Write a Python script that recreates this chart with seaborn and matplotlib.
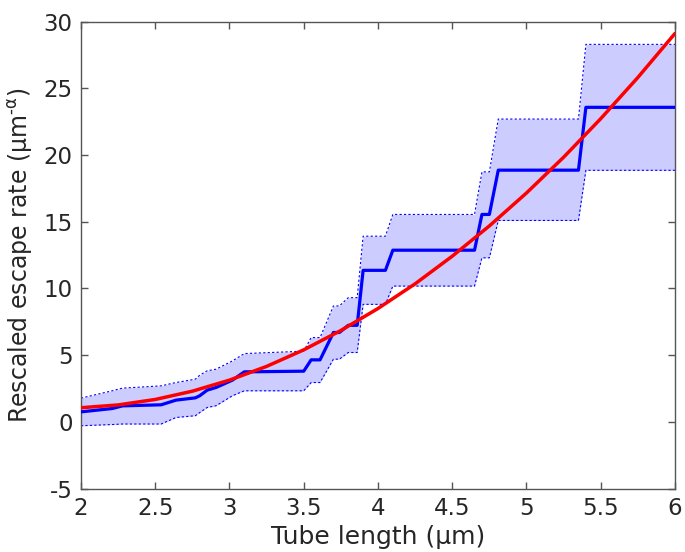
import matplotlib
matplotlib.use("Agg")
import matplotlib.pyplot as plt
import seaborn as sns
import pandas as pd

# Empirical escape rate (step-like estimate) with confidence band
x_emp = [2.00, 2.21, 2.28, 2.54, 2.64, 2.77, 2.80, 2.85, 2.91, 3.02, 3.10, 3.50, 3.55, 3.61,
         3.70, 3.74, 3.80, 3.86, 3.90, 4.05, 4.10, 4.65, 4.70, 4.75, 4.81, 5.35, 5.40, 6.00]
y_mean = [0.75, 1.00, 1.20, 1.28, 1.63, 1.80, 1.96, 2.38, 2.58, 3.13, 3.75, 3.80, 4.65, 4.65,
          6.70, 6.70, 7.24, 7.24, 11.36, 11.36, 12.87, 12.87, 15.55, 15.55, 18.87, 18.87, 23.58, 23.58]
y_upper = [1.78, 2.33, 2.53, 2.70, 2.95, 3.20, 3.50, 3.83, 3.95, 4.57, 5.12, 5.30, 6.32, 6.32,
           8.69, 8.69, 9.31, 9.31, 13.92, 13.92, 15.55, 15.55, 18.74, 18.74, 22.70, 22.70, 28.30, 28.30]
y_lower = [-0.29, -0.20, -0.16, -0.16, 0.33, 0.46, 0.70, 1.08, 1.21, 1.96, 2.33, 2.33, 2.95, 2.95,
           4.70, 4.70, 5.20, 5.20, 8.81, 8.81, 10.18, 10.18, 12.30, 12.30, 15.10, 15.10, 18.86, 18.86]

# Model fit curve
x_fit = [2.00, 2.25, 2.50, 2.75, 3.00, 3.25, 3.50, 3.75, 4.00, 4.25, 4.50, 4.75, 5.00,
         5.25, 5.50, 5.75, 6.00]
y_fit = [1.06, 1.27, 1.68, 2.30, 3.13, 4.16, 5.40, 6.85, 8.50, 10.35, 12.42, 14.69, 17.16,
         19.84, 22.73, 25.82, 29.12]

x_ticks = [2, 2.5, 3, 3.5, 4, 4.5, 5, 5.5, 6]
x_ticklabels = ["2", "2.5", "3", "3.5", "4", "4.5", "5", "5.5", "6"]
y_ticks = [-5, 0, 5, 10, 15, 20, 25, 30]
y_ticklabels = ["-5", "0", "5", "10", "15", "20", "25", "30"]

sns.set_theme(style="white")
plt.rcParams["font.family"] = ["DejaVu Sans"]
plt.rcParams["mathtext.default"] = "regular"

emp = pd.DataFrame({"x": x_emp, "mean": y_mean, "upper": y_upper, "lower": y_lower})
fit = pd.DataFrame({"x": x_fit, "y": y_fit})

fig = plt.figure(figsize=(6.85, 5.52), dpi=100)
ax = fig.add_axes([0.1182, 0.1149, 0.8672, 0.8458])

ax.fill_between(emp["x"], emp["lower"], emp["upper"], color="#ccccff", linewidth=0, zorder=1)
sns.lineplot(data=emp, x="x", y="upper", ax=ax, color="blue", linewidth=0.8,
             linestyle=(0, (2, 2)), zorder=2, sort=False)
sns.lineplot(data=emp, x="x", y="lower", ax=ax, color="blue", linewidth=0.8,
             linestyle=(0, (2, 2)), zorder=2, sort=False)
sns.lineplot(data=emp, x="x", y="mean", ax=ax, color="blue", linewidth=2.3, zorder=3, sort=False)
sns.lineplot(data=fit, x="x", y="y", ax=ax, color="red", linewidth=2.5, zorder=4, sort=False)

ax.set_xlim(2, 6)
ax.set_ylim(-5, 30)
ax.set_xticks(x_ticks)
ax.set_xticklabels(x_ticklabels)
ax.set_yticks(y_ticks)
ax.set_yticklabels(y_ticklabels)
ax.tick_params(direction="in", length=5, width=1, colors="#555555", labelcolor="#262626",
               labelsize=16.5, top=True, right=True, bottom=True, left=True, pad=6)
for s in ax.spines.values():
    s.set_color("#555555")
    s.set_linewidth(1.0)
ax.set_xlabel("Tube length (μm)", fontsize=18, color="#262626", labelpad=4)
ax.set_ylabel("Rescaled escape rate (μm$^{\u2010α}$)", fontsize=17, color="#262626", labelpad=6)

fig.savefig("out.png", dpi=100)
